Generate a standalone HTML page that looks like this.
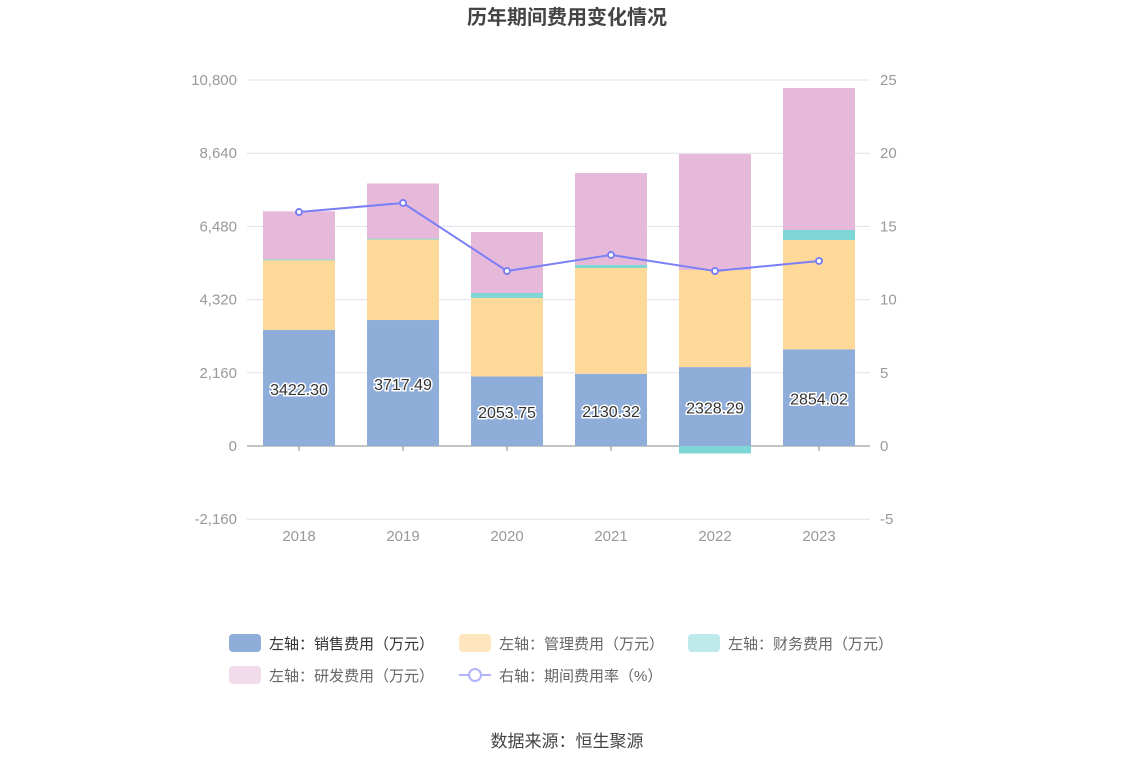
<!DOCTYPE html>
<html><head><meta charset="utf-8"><style>
body{margin:0;background:#fff;font-family:"Liberation Sans","Noto Sans CJK SC",sans-serif}
svg text{font-family:"Liberation Sans","Noto Sans CJK SC",sans-serif}
</style></head><body>
<svg id="c" width="1134" height="766">
<text x="567" y="24" text-anchor="middle" font-size="20" font-weight="bold" fill="#444">历年期间费用变化情况</text>
<g id="grid"></g><g id="bars"></g><g id="line"></g>
<g id="legend" font-size="15" fill="#666">
<g><rect x="229" y="634" width="32" height="18" rx="4" fill="#8eadd9"/><text x="269" y="649" fill="#333">左轴：销售费用（万元）</text></g>
<g><rect x="459" y="634" width="32" height="18" rx="4" fill="#ffe6bf"/><text x="499" y="649">左轴：管理费用（万元）</text></g>
<g><rect x="688" y="634" width="32" height="18" rx="4" fill="#bfeaea"/><text x="728" y="649">左轴：财务费用（万元）</text></g>
<g><rect x="229" y="666" width="32" height="18" rx="4" fill="#f2dcec"/><text x="269" y="681">左轴：研发费用（万元）</text></g>
<g><line x1="459" y1="675" x2="491" y2="675" stroke="#b0b3f8" stroke-width="2"/><circle cx="475" cy="675" r="6" fill="#fff" stroke="#b0b3f8" stroke-width="2"/><text x="499" y="681">右轴：期间费用率（%）</text></g>
</g>
<text x="567" y="747" text-anchor="middle" font-size="17" fill="#444">数据来源：恒生聚源</text>
</svg>
<script>
const years=["2018","2019","2020","2021","2022","2023"];
const sales=[3422.30,3717.49,2053.75,2130.32,2328.29,2854.02];
const admin=[2068,2390,2313,3122,2865,3224];
const finance=[20,15,148,89,-220,296];
const rnd=[1415,1623,1800,2714,3423,4189];
const rate=[15.98,16.6,11.95,13.05,11.95,12.64];
const leftTicks=[-2160,0,2160,4320,6480,8640,10800];
const rightTicks=[-5,0,5,10,15,20,25];
const NS="http://www.w3.org/2000/svg";
const yL=v=>446-v*366/10800, yR=v=>446-v*14.64, xC=i=>299+i*104;
function mk(t,a,p,txt){const e=document.createElementNS(NS,t);for(const k in a)e.setAttribute(k,a[k]);if(txt!==undefined)e.textContent=txt;p.appendChild(e);return e;}
const g=document.getElementById('grid'),b=document.getElementById('bars'),l=document.getElementById('line');
leftTicks.forEach((t,i)=>{
 const y=yL(t);
 const ln=mk('line',{x1:247,x2:870,y1:y,y2:y,stroke:t===0?'#888':'#e0e0ec','stroke-width':1},g);
 
 
 const tx=mk('text',{x:237,y:y+5,'text-anchor':'end','font-size':15,fill:'#999'},g,t.toLocaleString('en-US'));
 
 
 const r=mk('text',{x:880,y:yR(rightTicks[i])+5,'font-size':15,fill:'#999'},g,rightTicks[i]);
 
 
});
years.forEach((yr,i)=>{
 const x=xC(i);
 const t=mk('text',{x:x,y:541,'text-anchor':'middle','font-size':15,fill:'#999'},g,yr);
 
 
 mk('line',{x1:x,x2:x,y1:446,y2:451,stroke:'#888'},g);
 let pos=0,neg=0;
 [[sales,'#8eadd9','sales'],[admin,'#ffd999','admin'],[finance,'#7fd6d6','finance'],[rnd,'#e6b9da','rnd']].forEach(([arr,c,n])=>{
  const v=arr[i];let y0,y1;
  if(v>=0){y0=yL(pos+v);y1=yL(pos);pos+=v;}else{y0=yL(neg);y1=yL(neg+v);neg+=v;}
  const r=mk('rect',{x:x-36,y:y0,width:72,height:Math.max(y1-y0,1),fill:c},b);
  
  
 });
 const lb=mk('text',{x:x,y:(yL(sales[i])+446)/2+7,'text-anchor':'middle','font-size':16,fill:'#333',stroke:'#fff','stroke-width':3,'paint-order':'stroke'},b,sales[i].toFixed(2));
 
 
});
const p=mk('polyline',{points:rate.map((v,i)=>xC(i)+','+yR(v)).join(' '),fill:'none',stroke:'#7b7ff5','stroke-width':2},l);


rate.forEach((v,i)=>{
 const c=mk('circle',{cx:xC(i),cy:yR(v),r:3,fill:'#fff',stroke:'#7b7ff5','stroke-width':2},l);
 
 
});
</script>
</body></html>
